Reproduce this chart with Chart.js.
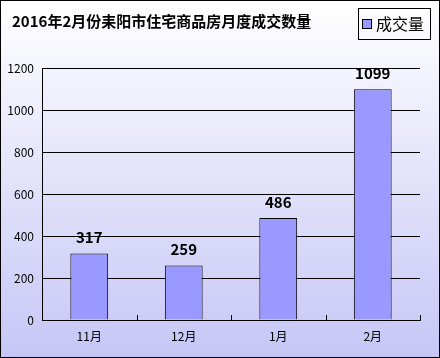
<!DOCTYPE html>
<html><head><meta charset="utf-8">
<script src="https://cdn.jsdelivr.net/npm/chart.js@4.4.1/dist/chart.umd.min.js"></script>
<style>html,body{margin:0;padding:0;background:#fff}#wrap{width:440px;height:358px;position:relative}</style>
</head><body><div id="wrap"><canvas id="c" width="440" height="358"></canvas></div>
<script>
const chartTitle = '2016年2月份耒阳市住宅商品房月度成交数量';
const categories = ['11月', '12月', '1月', '2月'];
const seriesName = '成交量';
const values = [317, 259, 486, 1099];
const yMin = 0, yMax = 1200, yStep = 200;

const FONT = '"Noto Sans CJK SC", "DejaVu Sans", sans-serif';

const decor = {
  id: 'decor',
  beforeDraw(chart) {
    const ctx = chart.ctx, w = chart.width, h = chart.height;
    ctx.save();
    const g = ctx.createLinearGradient(0, 0, 0, h);
    g.addColorStop(0, '#ffffff');
    g.addColorStop(1, '#c6c6f6');
    ctx.fillStyle = g;
    ctx.fillRect(0, 0, w, h);
    ctx.restore();
  },
  afterDraw(chart) {
    const ctx = chart.ctx, w = chart.width, h = chart.height;
    ctx.save();
    // title
    ctx.fillStyle = '#000';
    ctx.font = 'bold 15px ' + FONT;
    ctx.textAlign = 'left';
    ctx.textBaseline = 'middle';
    ctx.fillText(chartTitle, 12, 21);
    // legend
    const ds = chart.data.datasets[0];
    ctx.lineWidth = 1;
    ctx.strokeStyle = '#000';
    ctx.strokeRect(358.5, 8.5, 72, 31);
    ctx.fillStyle = ds.backgroundColor;
    ctx.fillRect(362.5, 19.5, 9, 9);
    ctx.strokeRect(362.5, 19.5, 9, 9);
    ctx.fillStyle = '#000';
    ctx.font = '16px ' + FONT;
    ctx.fillText(ds.label, 376, 24);
    // outer border
    ctx.strokeStyle = '#000';
    ctx.strokeRect(0.5, 0.5, w - 1, h - 1);
    ctx.restore();
  },
  afterDatasetsDraw(chart) {
    const ctx = chart.ctx;
    const meta = chart.getDatasetMeta(0);
    const xs = chart.scales.x, area = chart.chartArea;
    ctx.save();
    // inner tick marks between categories on x axis
    ctx.strokeStyle = '#000';
    ctx.lineWidth = 1;
    for (let i = 0; i < categories.length; i++) {
      const px = Math.round(xs.getPixelForValue(i + 0.5)) + 0.5;
      ctx.beginPath();
      ctx.moveTo(px, area.bottom);
      ctx.lineTo(px, area.bottom - 5);
      ctx.stroke();
    }
    // value labels
    ctx.fillStyle = '#000';
    ctx.font = 'bold 15px ' + FONT;
    ctx.textAlign = 'center';
    ctx.textBaseline = 'middle';
    meta.data.forEach((bar, i) => {
      ctx.fillText(String(chart.data.datasets[0].data[i]), bar.x, bar.y - 16);
    });
    ctx.restore();
  }
};

new Chart(document.getElementById('c'), {
  type: 'bar',
  data: {
    labels: categories,
    datasets: [{
      label: seriesName,
      data: values,
      backgroundColor: '#9999ff',
      borderColor: '#000000',
      borderWidth: 1,
      barPercentage: 0.4,
      categoryPercentage: 1.0
    }]
  },
  options: {
    responsive: false,
    animation: false,
    devicePixelRatio: 1,
    layout: { padding: { top: 68, left: 0, right: 20, bottom: 0 } },
    plugins: { legend: { display: false }, title: { display: false }, tooltip: { enabled: false } },
    scales: {
      x: {
        grid: { display: false, drawTicks: false },
        border: { display: true, color: '#000', width: 1 },
        ticks: { color: '#000', font: { size: 12, family: FONT }, padding: 9 },
        afterFit(s) { s.height = 38; }
      },
      y: {
        min: yMin, max: yMax,
        grid: { color: '#000', lineWidth: 1, drawTicks: false },
        border: { display: true, color: '#000', width: 1 },
        ticks: { stepSize: yStep, color: '#000', font: { size: 12, family: FONT }, padding: 8,
                 callback: (v) => String(v) },
        afterFit(s) { s.width = 42; }
      }
    }
  },
  plugins: [decor]
});
</script>
</body></html>
